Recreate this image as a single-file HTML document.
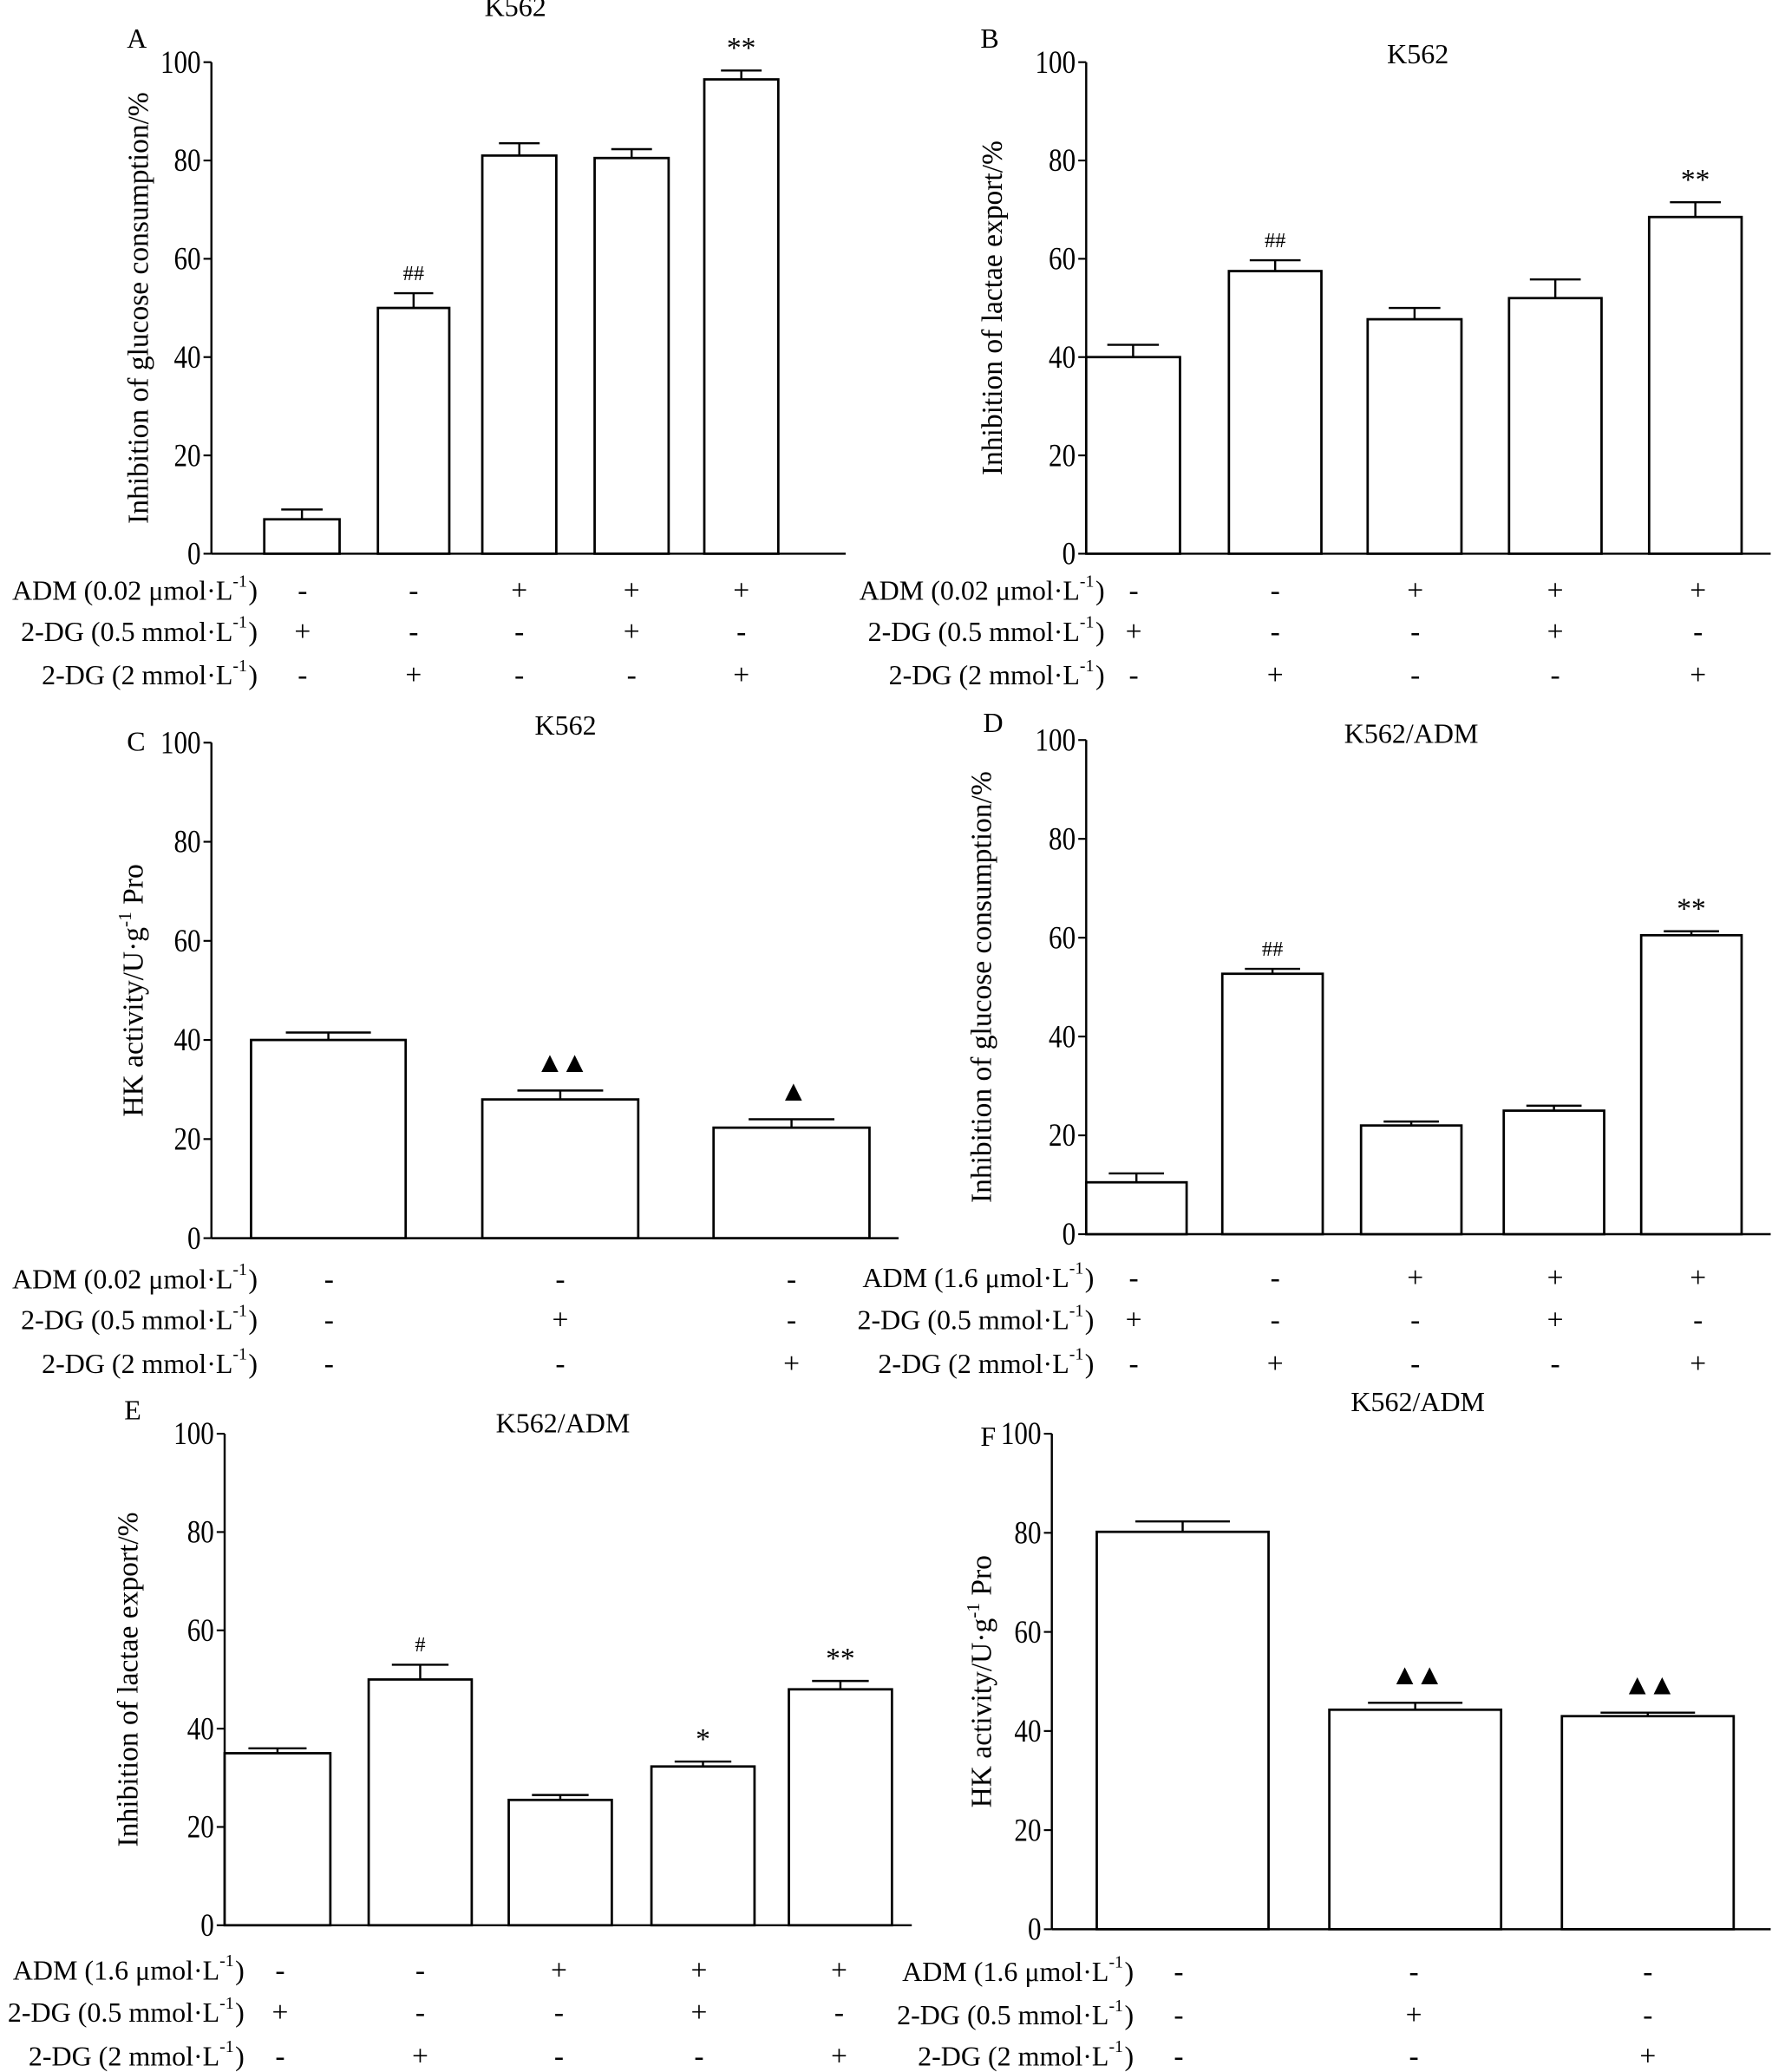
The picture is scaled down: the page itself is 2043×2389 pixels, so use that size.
<!DOCTYPE html>
<html><head><meta charset="utf-8"><style>
html,body{margin:0;padding:0;background:#fff}
svg{display:block}
text{font-family:"Liberation Serif",serif;fill:#000}
</style></head><body>
<svg id="fig" width="2043" height="2389" viewBox="0 0 1341 1568" xmlns="http://www.w3.org/2000/svg"></svg>
<script>
const ticks=[0,20,40,60,80,100];
const valsA=[7,50,81,80.5,96.5], errA=[9,53,83.5,82.3,98.3], annA=["","##","","","**"];
const valsB=[40,57.5,47.7,52,68.5], errB=[42.5,59.7,50,55.8,71.5], annB=["","##","","","**"];
const valsC=[40,28,22.3], errC=[41.5,29.8,24], annC=["","▲▲","▲"];
const valsD=[10.5,52.7,22,25,60.5], errD=[12.3,53.7,22.8,26,61.3], annD=["","##","","","**"];
const valsE=[35,50,25.5,32.3,48], errE=[36,53,26.5,33.3,49.7], annE=["","#","","*","**"];
const valsF=[80.2,44.3,43], errF=[82.3,45.7,43.7], annF=["","▲▲","▲▲"];
const fac5=[["-","-","+","+","+"],["+","-","-","+","-"],["-","+","-","-","+"]];
const fac3=[["-","-","-"],["-","+","-"],["-","-","+"]];
const rowsK=["ADM (0.02 μmol·L","2-DG (0.5 mmol·L","2-DG (2 mmol·L"];
const rowsR=["ADM (1.6 μmol·L","2-DG (0.5 mmol·L","2-DG (2 mmol·L"];
const NS="http://www.w3.org/2000/svg";
const svg=document.getElementById('fig');
function mk(tag,at,parent,txt){const e=document.createElementNS(NS,tag);for(const k in at)e.setAttribute(k,at[k]);if(txt!==undefined)e.textContent=txt;(parent||svg).appendChild(e);return e;}
const panels=[
 {id:'a',L:'A',lx:96,ly:36,title:'K562',tx:390,ty:12,ax:160,x1:640,y0:419,y1:47,bars:[[200,257],[286,340],[365,421],[450,506],[533,589]],vals:valsA,err:errA,ann:annA,yt:'Inhibition of glucose consumption/%',ytx:112,fac:fac5,rows:rowsK,lr:195,fy:[447,478,511],marks:[229,313,393,478,561]},
 {id:'b',L:'B',lx:742,ly:36,title:'K562',tx:1073,ty:48,ax:822,x1:1340,y0:419,y1:47,bars:[[822,893],[930,1000],[1035,1106],[1142,1212],[1248,1318]],vals:valsB,err:errB,ann:annB,yt:'Inhibition of lactae export/%',ytx:758,fac:fac5,rows:rowsK,lr:836,fy:[447,478,511],marks:[858,965,1071,1177,1285]},
 {id:'c',L:'C',lx:96,ly:568,title:'K562',tx:428,ty:556,ax:160,x1:680,y0:937,y1:562,bars:[[190,307],[365,483],[540,658]],vals:valsC,err:errC,ann:annC,yt:'HK activity/U·g',ytx:108,hk:true,fac:fac3,rows:rowsK,lr:195,fy:[968,999,1032],marks:[249,424,599]},
 {id:'d',L:'D',lx:744,ly:554,title:'K562/ADM',tx:1068,ty:562,ax:822,x1:1340,y0:934,y1:560,bars:[[822,898],[925,1001],[1030,1106],[1138,1214],[1242,1318]],vals:valsD,err:errD,ann:annD,yt:'Inhibition of glucose consumption/%',ytx:750,fac:fac5,rows:rowsR,lr:828,fy:[967,999,1032],marks:[858,965,1071,1177,1285]},
 {id:'e',L:'E',lx:94,ly:1074,title:'K562/ADM',tx:426,ty:1084,ax:170,x1:690,y0:1457,y1:1085,bars:[[170,250],[279,357],[385,463],[493,571],[597,675]],vals:valsE,err:errE,ann:annE,yt:'Inhibition of lactae export/%',ytx:104,fac:fac5,rows:rowsR,lr:185,fy:[1491,1523,1556],marks:[212,318,423,529,635]},
 {id:'f',L:'F',lx:742,ly:1094,title:'K562/ADM',tx:1073,ty:1068,ax:796,x1:1340,y0:1460,y1:1085,bars:[[830,960],[1006,1136],[1182,1312]],vals:valsF,err:errF,ann:annF,yt:'HK activity/U·g',ytx:750,hk:true,fac:fac3,rows:rowsR,lr:858,fy:[1492,1525,1556],marks:[892,1070,1247]}
];
panels.forEach(p=>{
 const g=mk('g',{});
 
 
 const y=v=>p.y0+(p.y1-p.y0)*v/100;
 const pl=mk('text',{x:p.lx,y:p.ly,'font-size':21},g,p.L);
 
 
 const t=mk('text',{x:p.tx,y:p.ty,'font-size':21,'text-anchor':'middle'},g,p.title);
 
 
 const ya=mk('line',{x1:p.ax,y1:p.y0,x2:p.ax,y2:p.y1,stroke:'#000','stroke-width':1.6},g);
 
 
 const xa=mk('line',{x1:p.ax,y1:p.y0,x2:p.x1,y2:p.y0,stroke:'#000','stroke-width':1.6},g);
 
 
 ticks.forEach(v=>{
  mk('line',{x1:p.ax-6,y1:y(v),x2:p.ax,y2:y(v),stroke:'#000','stroke-width':1.4},g);
  const tl=mk('text',{x:p.ax-8,y:y(v)+8,'font-size':24,'text-anchor':'end',transform:`translate(${p.ax-8} 0) scale(0.85 1) translate(${-(p.ax-8)} 0)`},g,String(v));
  
  
 });
 const cy=(p.y0+p.y1)/2;
 const yt=mk('text',{x:p.ytx,y:cy,'font-size':22,'text-anchor':'middle',transform:`rotate(-90 ${p.ytx} ${cy})`},g,p.yt);
 if(p.hk){mk('tspan',{dy:-9,'font-size':14},yt,'-1');mk('tspan',{dy:9},yt,' Pro');}
 
 
 p.vals.forEach((v,i)=>{
  const [a,b]=p.bars[i],c=(a+b)/2,w=(b-a)*0.55;
  const r=mk('rect',{x:a,y:y(v),width:b-a,height:p.y0-y(v),fill:'#fff',stroke:'#000','stroke-width':1.8},g);
  
  
  const e=mk('path',{d:`M${c} ${y(v)}V${y(p.err[i])}M${c-w/2} ${y(p.err[i])}H${c+w/2}`,stroke:'#000','stroke-width':1.6,fill:'none'},g);
  
  
  if(p.ann[i]){
   const tri=p.ann[i].includes('▲');
   const an=mk('text',{x:c,y:y(p.err[i])-(tri?14:10),'font-size':tri?22:(p.ann[i].includes('*')?22:16),'text-anchor':'middle','letter-spacing':tri?-3:0},g,p.ann[i]);
   
   
  }
 });
 p.rows.forEach((r,k)=>{
  const tx=mk('text',{x:p.lr-8,y:p.fy[k]+7,'font-size':21,'text-anchor':'end'},g,r);
  
  
  mk('tspan',{dy:-10,'font-size':13},tx,'-1');
  mk('text',{x:p.lr,y:p.fy[k]+7,'font-size':21,'text-anchor':'end'},g,')');
  p.fac[k].forEach((m,i)=>{
   const mt=mk('text',{x:p.marks[i],y:p.fy[k]+7,'font-size':22,'text-anchor':'middle'},g,m);
   
   
  });
 });
});
</script>
</body></html>
